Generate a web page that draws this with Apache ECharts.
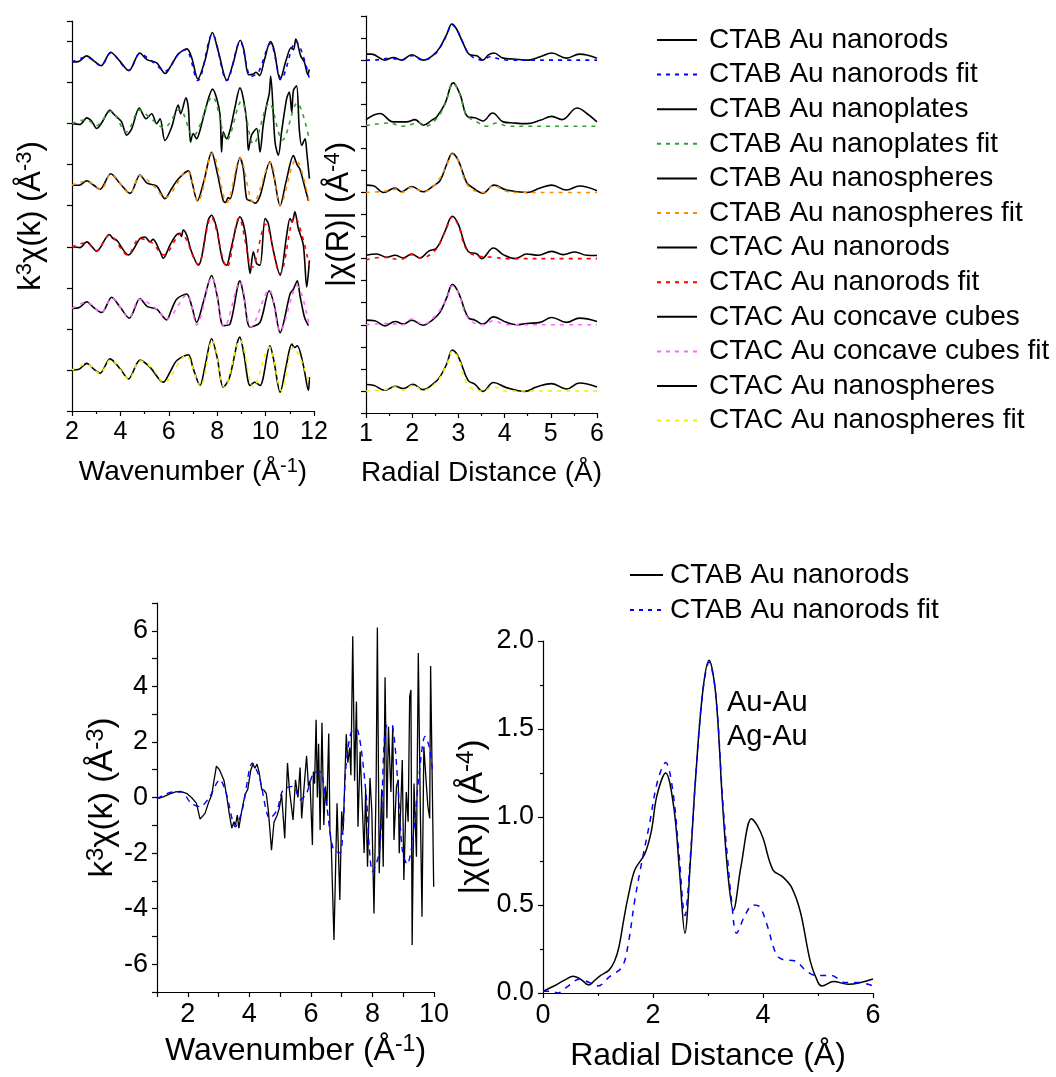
<!DOCTYPE html>
<html><head><meta charset="utf-8">
<script src="https://cdn.jsdelivr.net/npm/echarts@6/dist/echarts.min.js"></script>
<style>html,body{margin:0;padding:0;background:#fff}#c{width:1056px;height:1077px}</style>
</head><body><div id="c"></div>
<script>
const FONT = '"Liberation Sans", Arial, Helvetica, sans-serif';

// ---------- names / colours ----------
const sampleNames = ['CTAB Au nanorods','CTAB Au nanoplates','CTAB Au nanospheres','CTAC Au nanorods','CTAC Au concave cubes','CTAC Au nanospheres'];
const fitColors = ['#0000ff','#33a02c','#ff8c00','#ff0000','#ff66ff','#f2f200'];
const offsetsK = [8.5, 7, 5.5, 4, 2.5, 1];     // vertical stacking of k-space curves
const offsetsR = [16, 13, 10, 7, 4, 1];        // vertical stacking of R-space curves

// ---------- top-left: k^3 chi(k), [k, value] ----------
const kCtabRods = [[2.0,0],[2.3,0.02],[2.6,0.15],[2.9,0.03],[3.2,-0.09],[3.6,0.24],[3.95,0.04],[4.35,-0.21],[4.8,0.22],[5.1,0.06],[5.5,-0.02],[5.85,-0.28],[6.1,-0.08],[6.4,0.2],[6.75,0.32],[6.95,0.1],[7.2,-0.41],[7.5,0.05],[7.8,0.72],[8.05,0.25],[8.4,-0.45],[8.65,-0.05],[8.95,0.53],[9.1,0.3],[9.3,-0.31],[9.5,-0.29],[9.6,-0.25],[9.75,-0.33],[9.95,0.05],[10.2,0.5],[10.35,0.3],[10.6,-0.43],[10.85,0.05],[11.05,0.35],[11.15,0.3],[11.25,0.56],[11.45,0.15],[11.6,0.0],[11.75,-0.31],[11.8,-0.18]];
const kCtabRodsFit = [[2.0,0],[2.6,0.12],[3.2,-0.08],[3.6,0.22],[4.35,-0.2],[4.8,0.2],[5.3,0.02],[5.85,-0.22],[6.4,0.2],[6.7,0.3],[7.2,-0.45],[7.8,0.68],[8.4,-0.45],[8.95,0.5],[9.4,-0.35],[9.7,-0.25],[10.2,0.45],[10.65,-0.4],[11.25,0.5],[11.8,-0.38]];
const kCtabPlates = [[2.0,0],[2.33,-0.02],[2.61,0.14],[2.81,0.06],[3.02,-0.12],[3.23,0.02],[3.57,0.33],[3.71,0.24],[3.85,0.16],[4.05,0.04],[4.26,-0.28],[4.47,-0.12],[4.78,0.38],[5.06,0.12],[5.29,0.24],[5.5,0],[5.64,0.12],[5.84,-0.41],[6.12,-0.08],[6.39,0.45],[6.49,0.24],[6.71,0.63],[6.81,0.37],[6.9,-0.45],[7.01,-0.24],[7.15,-0.37],[7.29,-0.16],[7.56,0.45],[7.81,0.84],[7.98,0.61],[8.12,0.2],[8.18,-0.69],[8.25,-0.2],[8.39,-0.37],[8.53,-0.16],[8.74,0.41],[8.94,0.87],[9.08,0.61],[9.22,0.04],[9.29,-0.65],[9.42,-0.28],[9.63,-0.12],[9.77,-0.69],[9.9,-0.04],[10.04,0.45],[10.15,0.73],[10.21,1.16],[10.39,-0.45],[10.53,-0.77],[10.66,-0.2],[10.87,0.61],[10.98,0.77],[11.08,0.28],[11.15,0.81],[11.28,0.92],[11.39,-0.12],[11.49,-0.53],[11.63,-0.37],[11.7,-0.69],[11.81,-1.34]];
const kCtabPlatesFit = [[2.0,0],[2.6,0.1],[3.0,-0.05],[3.6,0.3],[4.25,-0.2],[4.8,0.33],[5.3,0.1],[5.8,-0.1],[6.45,0.35],[7.0,-0.3],[7.8,0.65],[8.4,-0.4],[9.0,0.55],[9.5,-0.5],[10.15,0.5],[10.7,-0.4],[11.3,0.5],[11.8,-0.37]];
const kCtabSpheres = [[2.0,0],[2.3,0.0],[2.61,0.11],[2.9,0.0],[3.16,-0.1],[3.6,0.28],[4.0,0.03],[4.4,-0.2],[4.81,0.25],[5.1,0.05],[5.5,-0.02],[5.84,-0.33],[6.1,-0.1],[6.39,0.15],[6.81,0.35],[6.95,0.1],[7.18,-0.38],[7.45,0.1],[7.77,0.8],[8.0,0.3],[8.25,-0.38],[8.35,-0.42],[8.45,-0.3],[8.53,-0.33],[8.94,0.67],[9.08,0.4],[9.22,-0.34],[9.4,-0.38],[9.56,-0.44],[9.77,-0.26],[10.18,0.57],[10.35,0.2],[10.6,-0.5],[10.85,0.1],[11.15,0.72],[11.3,0.5],[11.42,0.39],[11.6,0.0],[11.77,-0.38]];
const kCtabSpheresFit = [[2.0,0],[2.6,0.1],[3.2,-0.1],[3.6,0.27],[4.4,-0.2],[4.8,0.24],[5.35,0.0],[5.85,-0.3],[6.75,0.35],[7.2,-0.4],[7.8,0.78],[8.4,-0.42],[8.95,0.65],[9.5,-0.42],[10.2,0.55],[10.6,-0.48],[11.25,0.62],[11.8,-0.4]];
const kCtacRods = [[2.0,0],[2.33,-0.02],[2.61,0.12],[3.02,-0.11],[3.54,0.3],[3.7,0.2],[3.85,0.16],[4.33,-0.2],[4.81,0.2],[5.02,0.24],[5.22,0.12],[5.35,0.18],[5.64,-0.12],[5.77,-0.28],[6.05,0.04],[6.3,0.28],[6.46,0.33],[6.52,0.25],[6.6,0.41],[6.74,0.28],[6.94,-0.12],[7.22,-0.45],[7.63,0.65],[7.77,0.77],[7.98,0.45],[8.12,-0.04],[8.25,-0.37],[8.39,-0.45],[8.53,-0.16],[8.8,0.53],[8.94,0.73],[9.15,0.37],[9.29,-0.37],[9.36,-0.65],[9.49,-0.12],[9.63,-0.41],[9.77,-0.45],[9.98,0.69],[10.11,0.57],[10.3,-0.04],[10.6,-0.69],[10.87,0.28],[11.01,0.69],[11.1,0.6],[11.21,0.85],[11.35,0.45],[11.56,0.04],[11.7,-0.98],[11.81,-0.33]];
const kCtacRodsFit = [[2.0,0],[2.6,0.1],[3.0,-0.1],[3.55,0.28],[4.3,-0.2],[4.8,0.2],[5.3,0.1],[5.8,-0.2],[6.5,0.32],[7.2,-0.42],[7.75,0.72],[8.4,-0.5],[8.9,0.7],[9.45,-0.5],[10.0,0.55],[10.6,-0.65],[11.2,0.72],[11.8,-0.45]];
const kCtacCubes = [[2.0,0],[2.3,0.02],[2.61,0.16],[2.9,0.02],[3.23,-0.1],[3.64,0.27],[4.0,0.02],[4.37,-0.24],[4.81,0.24],[5.1,0.05],[5.5,-0.02],[5.91,-0.28],[6.1,-0.05],[6.33,0.23],[6.74,0.35],[6.95,0.05],[7.15,-0.34],[7.45,0.2],[7.77,0.8],[8.0,0.3],[8.25,-0.42],[8.53,-0.38],[8.94,0.67],[9.1,0.3],[9.36,-0.46],[9.77,-0.34],[10.15,0.43],[10.35,0.1],[10.6,-0.59],[11.01,0.35],[11.15,0.47],[11.31,0.67],[11.42,0.31],[11.56,-0.1],[11.63,-0.26],[11.77,-0.42]];
const kCtacCubesFit = [[2.0,0],[2.6,0.15],[3.2,-0.1],[3.65,0.25],[4.35,-0.22],[4.8,0.22],[5.5,-0.02],[5.9,-0.26],[6.75,0.33],[7.15,-0.4],[7.78,0.75],[8.3,-0.45],[8.95,0.65],[9.4,-0.45],[10.15,0.45],[10.6,-0.55],[11.3,0.55],[11.8,-0.42]];
const kCtacSpheres = [[2.0,0],[2.3,0.02],[2.61,0.16],[2.9,0.02],[3.16,-0.08],[3.57,0.27],[4.0,0.02],[4.33,-0.22],[4.81,0.24],[5.22,0.07],[5.77,-0.3],[6.05,-0.05],[6.33,0.23],[6.81,0.37],[7.0,0.05],[7.29,-0.38],[7.5,0.1],[7.77,0.76],[8.0,0.3],[8.25,-0.42],[8.5,-0.2],[8.94,0.8],[9.1,0.4],[9.36,-0.38],[9.55,-0.3],[9.77,-0.38],[10.18,0.59],[10.35,0.2],[10.6,-0.54],[10.85,0.1],[11.08,0.63],[11.2,0.55],[11.31,0.59],[11.56,0.11],[11.77,-0.5],[11.81,-0.18]];
const kCtacSpheresFit = [[2.0,0],[2.6,0.14],[3.15,-0.08],[3.6,0.25],[4.35,-0.22],[4.8,0.22],[5.3,0.05],[5.8,-0.3],[6.7,0.35],[7.3,-0.4],[7.8,0.72],[8.3,-0.42],[8.95,0.72],[9.5,-0.42],[10.15,0.55],[10.65,-0.5],[11.15,0.55],[11.8,-0.3]];

// ---------- top-middle: |chi(R)|, [R, value] ----------
const rCtabRods = [[1.0,0.27],[1.12,0.27],[1.41,0.0],[1.59,0.12],[1.77,0.0],[1.99,0.24],[2.24,0.0],[2.46,0.24],[2.6,0.58],[2.75,1.18],[2.86,1.64],[2.96,1.41],[3.11,0.73],[3.25,0.24],[3.4,0.2],[3.53,0.0],[3.65,0.24],[3.77,0.32],[3.97,0.09],[4.19,0.05],[4.51,0.0],[4.77,0.15],[5.02,0.32],[5.34,0.09],[5.62,0.27],[5.78,0.23],[6.0,0.08]];
const rCtabRodsFit = [[1.0,0],[1.16,0],[1.52,0.09],[1.77,0],[1.99,0.2],[2.24,0],[2.49,0.27],[2.6,0.55],[2.75,1.15],[2.86,1.61],[2.96,1.4],[3.11,0.75],[3.25,0.23],[3.54,0],[3.68,0.15],[3.9,0.05],[4.1,0],[5.0,0],[6.0,0]];
const rCtabPlates = [[1.0,0.3],[1.3,0.58],[1.59,0.2],[1.88,0.2],[2.06,0.3],[2.24,0.05],[2.42,0.27],[2.53,0.42],[2.71,1.03],[2.89,1.97],[3.03,1.48],[3.21,0.42],[3.36,0.39],[3.53,0.24],[3.74,0.6],[3.97,0.2],[4.19,0.15],[4.48,0.12],[4.77,0.27],[5.02,0.45],[5.24,0.3],[5.57,0.83],[5.78,0.58],[6.0,0.2]];
const rCtabPlatesFit = [[1.0,0.03],[1.52,0.15],[1.77,0],[2.17,0.15],[2.28,0],[2.53,0.35],[2.71,1.0],[2.89,1.94],[3.03,1.45],[3.18,0.5],[3.4,0.2],[3.61,0],[3.83,0.15],[4.08,0],[5.0,0],[6.0,0]];
const rCtabSpheres = [[1.0,0.33],[1.16,0.3],[1.38,0.0],[1.63,0.2],[1.77,0.03],[1.99,0.27],[2.23,0.03],[2.46,0.3],[2.6,0.53],[2.75,1.29],[2.87,1.77],[3.0,1.44],[3.18,0.45],[3.32,0.2],[3.53,-0.03],[3.77,0.33],[4.04,0.11],[4.48,0.0],[4.77,0.2],[5.02,0.33],[5.34,0.11],[5.62,0.29],[6.0,0.08]];
const rCtabSpheresFit = [[1.0,0],[1.38,0.05],[1.66,0.15],[1.77,0],[1.99,0.23],[2.24,0.03],[2.53,0.45],[2.75,1.25],[2.87,1.74],[3.0,1.42],[3.21,0.3],[3.54,0],[3.76,0.3],[4.04,0.05],[4.3,0],[5.0,0],[6.0,0]];
const rCtacRods = [[1.0,0.15],[1.23,0.21],[1.45,0.06],[1.63,0.15],[1.81,0.03],[1.99,0.21],[2.17,0.03],[2.35,0.33],[2.53,0.48],[2.71,1.24],[2.87,1.92],[3.0,1.55],[3.21,0.33],[3.4,0.21],[3.5,0.0],[3.76,0.48],[3.97,0.18],[4.23,0.0],[4.48,0.21],[4.73,0.15],[5.02,0.33],[5.27,0.18],[5.52,0.3],[5.78,0.15],[6.0,0.14]];
const rCtacRodsFit = [[1.0,-0.05],[1.38,0.06],[1.74,-0.04],[1.99,0.18],[2.17,0.03],[2.49,0.36],[2.71,1.2],[2.87,1.88],[3.0,1.5],[3.18,0.4],[3.47,0.1],[3.76,0.06],[4.04,0],[5.0,0],[6.0,0]];
const rCtacCubes = [[1.0,0.21],[1.19,0.18],[1.41,-0.05],[1.63,0.15],[1.81,0.03],[1.99,0.21],[2.23,-0.02],[2.46,0.26],[2.6,0.56],[2.75,1.24],[2.87,1.82],[3.0,1.47],[3.21,0.33],[3.36,0.21],[3.53,0.03],[3.76,0.36],[4.04,0.11],[4.26,0.0],[4.48,0.06],[4.77,0.11],[5.02,0.33],[5.34,0.11],[5.62,0.3],[6.0,0.15]];
const rCtacCubesFit = [[1.0,0],[1.45,0.06],[1.81,0],[1.99,0.26],[2.23,0.03],[2.53,0.48],[2.75,1.2],[2.87,1.77],[3.0,1.45],[3.21,0.3],[3.54,0],[3.76,0.18],[4.04,0],[5.0,0],[6.0,0]];
const rCtacSpheres = [[1.0,0.29],[1.16,0.26],[1.41,0.03],[1.63,0.21],[1.81,0.11],[2.02,0.3],[2.23,0.06],[2.46,0.33],[2.6,0.64],[2.75,1.24],[2.87,1.85],[3.0,1.55],[3.21,0.48],[3.36,0.3],[3.53,-0.02],[3.76,0.38],[4.04,0.15],[4.44,-0.02],[4.69,0.18],[5.02,0.33],[5.34,0.09],[5.62,0.36],[6.0,0.18]];
const rCtacSpheresFit = [[1.0,0],[1.41,0.06],[1.63,0.18],[1.81,0.03],[2.02,0.26],[2.23,0.03],[2.53,0.41],[2.75,1.2],[2.87,1.8],[3.0,1.5],[3.21,0.26],[3.53,0],[3.76,0.18],[4.04,0],[5.0,0],[6.0,0]];

// ---------- bottom-left: k^3 chi(k) single sample ----------
const kSingle = [[1.0,-0.05],[1.2,0.02],[1.4,0.12],[1.6,0.2],[1.75,0.22],[1.96,0.15],[2.12,0.0],[2.28,-0.2],[2.4,-0.78],[2.56,-0.57],[2.67,-0.2],[2.78,0.1],[2.85,0.6],[2.93,1.13],[3.03,1.0],[3.09,1.05],[3.18,0.6],[3.27,0.0],[3.35,-0.6],[3.43,-1.1],[3.5,-0.87],[3.55,-1.0],[3.61,-0.63],[3.66,-1.1],[3.75,-0.5],[3.86,0.1],[3.95,0.3],[4.05,1.0],[4.12,1.2],[4.18,1.05],[4.25,1.2],[4.32,0.9],[4.4,0.3],[4.47,0.27],[4.55,0.15],[4.62,-0.5],[4.72,-1.9],[4.8,-0.9],[4.9,-0.65],[4.97,-0.4],[5.05,0.1],[5.1,0.15],[5.15,-1.47],[5.24,1.24],[5.3,0.3],[5.42,-0.81],[5.5,0.64],[5.58,0.0],[5.65,1.08],[5.7,-0.75],[5.78,0.4],[5.86,1.5],[5.92,0.4],[5.97,0.6],[6.05,-1.71],[6.08,0.93],[6.12,0.5],[6.17,2.8],[6.21,0.0],[6.25,1.93],[6.3,-1.17],[6.36,2.69],[6.42,-0.99],[6.47,0.4],[6.52,-0.3],[6.58,2.3],[6.62,-1.23],[6.66,-1.65],[6.75,-5.13],[6.85,-0.21],[6.94,-3.69],[7.0,-0.5],[7.05,-1.17],[7.15,2.28],[7.2,1.25],[7.26,1.8],[7.3,0.8],[7.36,5.8],[7.42,0.6],[7.48,3.45],[7.53,-1.05],[7.6,1.65],[7.67,-0.3],[7.73,-2.0],[7.78,0.3],[7.84,-2.49],[7.92,0.7],[7.98,-0.5],[8.05,-4.17],[8.12,0.5],[8.16,6.12],[8.22,-2.73],[8.3,0.3],[8.35,-2.49],[8.41,4.33],[8.47,-0.75],[8.52,2.55],[8.6,0.2],[8.66,2.6],[8.7,-1.53],[8.78,0.4],[8.84,0.64],[8.87,-2.01],[8.97,1.35],[9.02,-2.97],[9.1,0.2],[9.16,-0.87],[9.21,3.63],[9.25,3.87],[9.29,-5.31],[9.35,0.5],[9.43,-2.13],[9.49,5.2],[9.55,0.0],[9.61,-4.29],[9.67,1.83],[9.75,0.5],[9.8,-0.3],[9.86,-0.75],[9.89,4.73],[9.95,0.0],[9.99,-3.21]];
const kSingleFit = [[1.0,-0.05],[1.5,0.2],[1.8,0.2],[2.1,-0.2],[2.4,-0.33],[2.7,0.0],[3.04,0.64],[3.25,0.15],[3.55,-1.05],[3.77,-0.45],[4.1,1.24],[4.32,0.75],[4.67,-0.75],[4.9,-0.45],[5.1,0.28],[5.43,0.4],[5.65,-0.08],[5.86,0.15],[6.08,0.87],[6.29,0.93],[6.5,-0.2],[6.72,-1.83],[6.94,-2.0],[7.05,-1.0],[7.15,1.24],[7.37,2.44],[7.53,2.4],[7.8,0.04],[7.9,-1.83],[8.0,-2.67],[8.23,-1.9],[8.38,1.95],[8.48,2.6],[8.65,2.55],[8.81,0.75],[8.97,-1.9],[9.13,-2.4],[9.3,-1.6],[9.51,0.75],[9.71,2.2],[9.84,1.85],[9.95,1.0]];

// ---------- bottom-right: |chi(R)| single sample ----------
const rSingle = [[0,0.01],[0.2,0.04],[0.4,0.075],[0.55,0.095],[0.7,0.075],[0.83,0.045],[0.95,0.075],[1.05,0.1],[1.2,0.13],[1.3,0.18],[1.38,0.26],[1.47,0.42],[1.55,0.55],[1.67,0.7],[1.85,0.79],[1.97,0.92],[2.07,1.12],[2.23,1.25],[2.38,1.05],[2.48,0.7],[2.58,0.34],[2.68,0.75],[2.77,1.2],[2.9,1.7],[3.02,1.89],[3.14,1.7],[3.27,1.05],[3.37,0.65],[3.46,0.47],[3.6,0.72],[3.79,0.99],[3.9,0.95],[4.0,0.88],[4.18,0.7],[4.36,0.66],[4.52,0.6],[4.68,0.46],[4.86,0.18],[5.0,0.06],[5.07,0.04],[5.28,0.065],[5.55,0.05],[6.0,0.08]];
const rSingleFit = [[0,0.01],[0.15,0.01],[0.27,0.0],[0.42,0.03],[0.67,0.08],[0.84,0.06],[1.0,0.04],[1.2,0.09],[1.44,0.15],[1.55,0.28],[1.67,0.53],[1.8,0.75],[1.93,0.95],[2.08,1.2],[2.23,1.31],[2.36,1.15],[2.47,0.8],[2.58,0.44],[2.68,0.78],[2.77,1.2],[2.9,1.7],[3.02,1.88],[3.14,1.7],[3.27,1.08],[3.36,0.75],[3.43,0.52],[3.52,0.34],[3.67,0.44],[3.82,0.5],[3.94,0.49],[4.06,0.4],[4.24,0.22],[4.36,0.19],[4.6,0.18],[4.77,0.13],[4.95,0.1],[5.24,0.1],[5.49,0.06],[5.73,0.06],[6.0,0.04]];

const kSets = [kCtabRods,kCtabPlates,kCtabSpheres,kCtacRods,kCtacCubes,kCtacSpheres];
const kFitSets = [kCtabRodsFit,kCtabPlatesFit,kCtabSpheresFit,kCtacRodsFit,kCtacCubesFit,kCtacSpheresFit];
const rSets = [rCtabRods,rCtabPlates,rCtabSpheres,rCtacRods,rCtacCubes,rCtacSpheres];
const rFitSets = [rCtabRodsFit,rCtabPlatesFit,rCtabSpheresFit,rCtacRodsFit,rCtacCubesFit,rCtacSpheresFit];

function shift(arr, off) { return arr.map(p => [p[0], p[1] + off]); }

const series = [];
kSets.forEach((d, i) => {
  series.push({ name: sampleNames[i], type: 'line', xAxisIndex: 0, yAxisIndex: 0, data: shift(d, offsetsK[i]),
    symbol: 'none', smooth: 0.3, color: '#000', lineStyle: { color: '#000', width: 1.6 }, z: 2 });
  series.push({ name: sampleNames[i] + ' fit', type: 'line', xAxisIndex: 0, yAxisIndex: 0, data: shift(kFitSets[i], offsetsK[i]),
    symbol: 'none', smooth: 0.35, color: fitColors[i], lineStyle: { color: fitColors[i], width: 1.6, type: [4, 5] }, z: 3 });
});
rSets.forEach((d, i) => {
  series.push({ name: sampleNames[i], type: 'line', xAxisIndex: 1, yAxisIndex: 1, data: shift(d, offsetsR[i]),
    symbol: 'none', smooth: 0.4, color: '#000', lineStyle: { color: '#000', width: 1.6 }, z: 2 });
  series.push({ name: sampleNames[i] + ' fit', type: 'line', xAxisIndex: 1, yAxisIndex: 1, data: shift(rFitSets[i], offsetsR[i]),
    symbol: 'none', smooth: 0.4, color: fitColors[i], lineStyle: { color: fitColors[i], width: 1.6, type: [4, 5] }, z: 3 });
});
series.push({ name: sampleNames[0], type: 'line', xAxisIndex: 2, yAxisIndex: 2, data: kSingle,
  symbol: 'none', smooth: false, color: '#000', lineStyle: { color: '#000', width: 1.3 }, z: 2 });
series.push({ name: sampleNames[0] + ' fit', type: 'line', xAxisIndex: 2, yAxisIndex: 2, data: kSingleFit,
  symbol: 'none', smooth: 0.3, color: '#0000ff', lineStyle: { color: '#0000ff', width: 1.4, type: [6, 5] }, z: 3 });
series.push({ name: sampleNames[0], type: 'line', xAxisIndex: 3, yAxisIndex: 3, data: rSingle,
  symbol: 'none', smooth: 0.35, color: '#000', lineStyle: { color: '#000', width: 1.5 }, z: 2 });
series.push({ name: sampleNames[0] + ' fit', type: 'line', xAxisIndex: 3, yAxisIndex: 3, data: rSingleFit,
  symbol: 'none', smooth: 0.35, color: '#0000ff', lineStyle: { color: '#0000ff', width: 1.5, type: [6, 6] }, z: 3 });

const legendTop = [];
sampleNames.forEach(n => { legendTop.push(n); legendTop.push(n + ' fit'); });

const axLine = { show: true, onZero: false, lineStyle: { color: '#000', width: 1.2 } };
const axTick = { show: true, inside: false, length: 5, lineStyle: { color: '#000', width: 1.2 } };
const minTick = { show: true, splitNumber: 2, length: 3, lineStyle: { color: '#000', width: 1.2 } };
const lblTop = { color: '#000', fontSize: 25, fontFamily: FONT, margin: 9 };
const lblBot = { color: '#000', fontSize: 27, fontFamily: FONT, margin: 9 };
const richTitle = (size) => ({ fontSize: size, fontFamily: FONT, color: '#000',
  rich: { n: { fontSize: size, fontFamily: FONT, color: '#000', lineHeight: size + 4 },
          s: { fontSize: Math.round(size * 0.72), fontFamily: FONT, color: '#000', verticalAlign: 'top', lineHeight: Math.round(size * 0.72) } } });

const option = {
  backgroundColor: '#fff',
  animation: false,
  grid: [
    { left: 72, top: 21, width: 242, height: 390 },
    { left: 366, top: 16, width: 231, height: 397 },
    { left: 157, top: 603, width: 277, height: 389 },
    { left: 543, top: 641, width: 330, height: 352 }
  ],
  xAxis: [
    { gridIndex: 0, type: 'value', min: 2, max: 12, interval: 2, axisLine: axLine, axisTick: axTick, minorTick: minTick,
      splitLine: { show: false }, axisLabel: lblTop,
      name: '{n|Wavenumber (Å}{s|-1}{n|)}', nameLocation: 'middle', nameGap: 45, nameTextStyle: richTitle(28) },
    { gridIndex: 1, type: 'value', min: 1, max: 6, interval: 1, axisLine: axLine, axisTick: axTick, minorTick: minTick,
      splitLine: { show: false }, axisLabel: lblTop,
      name: '{n|Radial Distance (Å)}', nameLocation: 'middle', nameGap: 44, nameTextStyle: richTitle(28) },
    { gridIndex: 2, type: 'value', min: 1, max: 10, interval: 1, axisLine: axLine, axisTick: axTick,
      splitLine: { show: false }, axisLabel: Object.assign({}, lblBot, { formatter: v => (v % 2 === 0 ? String(v) : '') }),
      name: '{n|Wavenumber (Å}{s|-1}{n|)}', nameLocation: 'middle', nameGap: 41, nameTextStyle: richTitle(32) },
    { gridIndex: 3, type: 'value', min: 0, max: 6, interval: 2, axisLine: axLine, axisTick: axTick, minorTick: minTick,
      splitLine: { show: false }, axisLabel: lblBot,
      name: '{n|Radial Distance (Å)}', nameLocation: 'middle', nameGap: 45, nameTextStyle: richTitle(32) }
  ],
  yAxis: [
    { gridIndex: 0, type: 'value', min: 0, max: 9.5, interval: 1, axisLine: axLine, axisTick: axTick,
      splitLine: { show: false }, axisLabel: { show: false },
      name: '{n|k}{s|3}{n|χ(k) (Å}{s|-3}{n|)}', nameLocation: 'middle', nameRotate: 90, nameGap: 23, nameTextStyle: richTitle(31) },
    { gridIndex: 1, type: 'value', min: 0, max: 18, interval: 1, axisLine: axLine, axisTick: axTick,
      splitLine: { show: false }, axisLabel: { show: false },
      name: '{n||χ(R)| (Å}{s|-4}{n|)}', nameLocation: 'middle', nameRotate: 90, nameGap: 9, nameTextStyle: richTitle(31) },
    { gridIndex: 2, type: 'value', min: -7, max: 7, interval: 1, axisLine: axLine, axisTick: axTick,
      splitLine: { show: false }, axisLabel: Object.assign({}, lblBot, { formatter: v => (v % 2 === 0 ? String(v) : '') }),
      name: '{n|k}{s|3}{n|χ(k) (Å}{s|-3}{n|)}', nameLocation: 'middle', nameRotate: 90, nameGap: 36, nameTextStyle: richTitle(33) },
    { gridIndex: 3, type: 'value', min: 0, max: 2, interval: 0.5, axisLine: axLine, axisTick: axTick, minorTick: minTick,
      splitLine: { show: false }, axisLabel: Object.assign({}, lblBot, { formatter: v => v.toFixed(1) }),
      name: '{n||χ(R)| (Å}{s|-4}{n|)}', nameLocation: 'middle', nameRotate: 90, nameGap: 52, nameTextStyle: richTitle(33) }
  ],
  legend: [
    { data: legendTop, orient: 'vertical', left: 656, top: 26, padding: 0, itemWidth: 40, itemHeight: 14, itemGap: 6.6,
      selectedMode: false, itemStyle: { opacity: 0, borderWidth: 0 },
      textStyle: { fontSize: 28, fontFamily: FONT, color: '#000', lineHeight: 25, padding: [0, 0, 0, 7] } },
    { data: [sampleNames[0], sampleNames[0] + ' fit'], orient: 'vertical', left: 629, top: 561, padding: 0, itemWidth: 33, itemHeight: 14, itemGap: 7,
      selectedMode: false, itemStyle: { opacity: 0, borderWidth: 0 },
      textStyle: { fontSize: 28, fontFamily: FONT, color: '#000', lineHeight: 25, padding: [0, 0, 0, 2] } }
  ],
  graphic: [
    { type: 'text', left: 727, top: 688, style: { text: 'Au-Au', font: '29px ' + FONT, fill: '#000' } },
    { type: 'text', left: 727, top: 722, style: { text: 'Ag-Au', font: '29px ' + FONT, fill: '#000' } }
  ],
  series: series
};

const chart = echarts.init(document.getElementById('c'), null, { renderer: 'canvas' });
chart.setOption(option);
</script>
</body></html>
